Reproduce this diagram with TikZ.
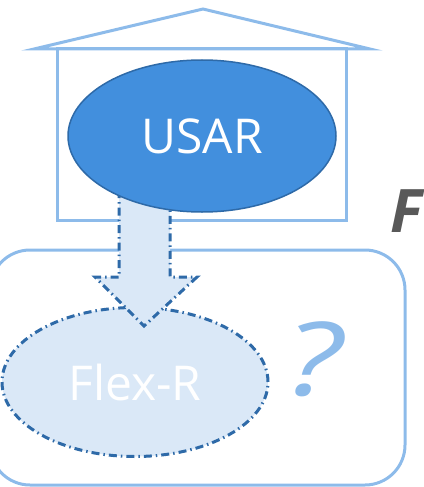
\documentclass[tikz,border=0pt]{standalone}
\usepackage{fontspec}
\setmainfont{Open Sans}
\usetikzlibrary{shapes.geometric}
\definecolor{usarfill}{HTML}{428FDD}
\definecolor{darkline}{HTML}{2E6AA8}
\definecolor{lightline}{HTML}{8DBBEA}
\definecolor{lightfill}{HTML}{DAE8F7}
\definecolor{graytext}{HTML}{595959}
\tikzset{
  lightstroke/.style={draw=lightline, line width=3pt},
  dashdotline/.style={draw=darkline, line width=3pt, dash pattern=on 8pt off 4pt on 1.5pt off 4pt},
  bigtext/.style={font=\fontsize{48}{48}\selectfont, text=white},
}
\begin{document}
\begin{tikzpicture}[x=1pt,y=-1pt]
\useasboundingbox (0,0) rectangle (423,487);
% house
\draw[lightstroke, line join=miter] (34,49) -- (203,9) -- (370,49) -- cycle;
\draw[lightstroke] (57,49) rectangle (346,220);
% rounded container
\draw[lightstroke, rounded corners=40pt] (-10,250) rectangle (405,485);
% Flex-R ellipse
\node[ellipse, fill=lightfill, dashdotline, minimum width=266pt, minimum height=149pt, inner sep=0pt, bigtext] (flex) at (135,382) {Flex-R};
% block arrow
\coordinate (atip) at (144,326);
\filldraw[fill=lightfill, dashdotline, line join=miter]
  (119,190) -- (119,277) -- (95,277) -- (atip) -- (197,277) -- (170,277) -- (170,190) -- cycle;
% USAR ellipse
\node[ellipse, fill=usarfill, draw=darkline, line width=1.5pt, minimum width=268pt, minimum height=152pt, inner sep=0pt, bigtext] (usar) at (202,136) {USAR};
% question mark
\node[anchor=base, text=lightline, font=\fontsize{102}{102}\selectfont\itshape, inner sep=0pt] (q) at (314,395) {\scalebox{1.3}[1]{?}};
% cut-off label
\node[anchor=base west, text=graytext, font=\fontsize{60}{60}\selectfont\bfseries\itshape, inner sep=0pt] (flabel) at (390,232) {F};
\end{tikzpicture}
\end{document}
